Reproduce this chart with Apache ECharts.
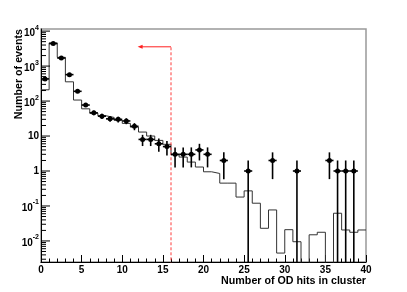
<!DOCTYPE html>
<html>
<head>
<meta charset="utf-8">
<script src="https://cdn.jsdelivr.net/npm/echarts@6/dist/echarts.min.js"></script>
<style>html,body{margin:0;padding:0;background:#fff}#c{width:407px;height:292px}</style>
</head>
<body>
<div id="c"></div>
<script>
// bin lower edges (width 1), 0..39
const binLow = [0,1,2,3,4,5,6,7,8,9,10,11,12,13,14,15,16,17,18,19,20,21,22,23,24,25,26,27,28,29,30,31,32,33,34,35,36,37,38,39];
// observed events per bin
const dataCounts = [430,4400,1700,570,190,77,46,37,31,30,27,19,8,8,6,5,3,3,3,4,3,0,2,0,0,1,0,0,2,0,0,1,0,0,0,2,1,1,1,0];
// expectation histogram per bin
const mcValues = [210,4600,1780,355,107,60,45,38,34,28,23,18,13,10,7.5,5.8,2.9,2.5,1.8,1.3,0.95,0.85,0.45,0.45,0.18,0.27,0.12,0.023,0.077,0.0045,0.021,0.0095,0,0.015,0.0177,0,0.062,0.0206,0.0177,0.0206];
// cut marker
const cutValue = [16];
const arrowEnd = [12.2];
const arrowLevel = [3560];
const xTicks = [0,5,10,15,20,25,30,35,40];
const yRange = [0.0025, 11500];

const FONT = '"Liberation Sans", Arial, Helvetica, sans-serif';
const floorV = yRange[0] * 0.3;

const histData = binLow.map((x, i) => [x, mcValues[i] > 0 ? mcValues[i] : floorV]);
histData.push([binLow[binLow.length-1] + 1, mcValues[mcValues.length-1] > 0 ? mcValues[mcValues.length-1] : floorV]);

const pointData = [];
binLow.forEach((x, i) => {
  const n = dataCounts[i];
  if (n > 0) {
    const e = Math.sqrt(n);
    const lo = n - e > 0 ? n - e : floorV;
    pointData.push([x + 0.5, n, lo, n + e]);
  }
});

const yTickData = [];
for (let k = -3; k <= 4; k++) {
  for (let m = 1; m <= 9; m++) {
    const v = m * Math.pow(10, k);
    if (v >= yRange[0] && v <= yRange[1]) yTickData.push([v, m === 1 ? 9 : 5]);
  }
}

const chart = echarts.init(document.getElementById('c'), null, {renderer: 'canvas'});
chart.setOption({
  animation: false,
  backgroundColor: '#fff',
  grid: {left: 41, right: 41, top: 29, bottom: 30, show: true, borderColor: '#999', borderWidth: 1.5, backgroundColor: 'transparent'},
  xAxis: {
    type: 'value', min: xTicks[0], max: xTicks[xTicks.length-1], interval: 5,
    axisLine: {show: true, lineStyle: {color: '#000', width: 1}},
    axisTick: {show: true, inside: true, length: 7, lineStyle: {color: '#000'}},
    minorTick: {show: true, splitNumber: 5, length: 3.5, lineStyle: {color: '#000'}},
    splitLine: {show: false},
    axisLabel: {margin: 3, fontFamily: FONT, fontSize: 10, fontWeight: 'bold', color: '#000'}
  },
  yAxis: {
    type: 'log', logBase: 10, min: yRange[0], max: yRange[1], splitNumber: 7,
    axisLine: {show: true, lineStyle: {color: '#000', width: 1}},
    axisTick: {show: false},
    splitLine: {show: false},
    axisLabel: {
      margin: 2, fontFamily: FONT, fontSize: 10, fontWeight: 'bold', color: '#000',
      showMinLabel: false, showMaxLabel: false,
      formatter: function (v) {
        const l = Math.log10(v);
        const e = Math.round(l);
        if (Math.abs(l - e) > 1e-6) return '';
        if (e === 0) return '1';
        if (e === 1) return '10';
        return '{b|10}{s|' + e + '}';
      },
      rich: {
        b: {fontFamily: FONT, fontSize: 10, fontWeight: 'bold', color: '#000', lineHeight: 14, verticalAlign: 'bottom'},
        s: {fontFamily: FONT, fontSize: 7, fontWeight: 'bold', color: '#000', lineHeight: 14, verticalAlign: 'top'}
      }
    }
  },
  graphic: [
    {type: 'text', x: 366, y: 281, style: {text: 'Number of OD hits in cluster', font: 'bold 10.7px ' + FONT, fill: '#000', textAlign: 'right', textVerticalAlign: 'middle'}},
    {type: 'text', x: 19, y: 29, rotation: Math.PI / 2, style: {text: 'Number of events', font: 'bold 10.7px ' + FONT, fill: '#000', textAlign: 'right', textVerticalAlign: 'middle'}}
  ],
  series: [
    {
      type: 'line', step: 'end', data: histData, showSymbol: false, clip: true,
      lineStyle: {color: '#333', width: 1}, z: 2, silent: true
    },
    {
      type: 'line', data: [[cutValue[0], floorV], [cutValue[0], arrowLevel[0]]], showSymbol: false, clip: true,
      lineStyle: {color: '#ff3b3b', width: 1, type: [3, 2]}, z: 3, silent: true
    },
    {
      type: 'line', clip: true,
      data: [{value: [cutValue[0], arrowLevel[0]], symbol: 'none'}, {value: [arrowEnd[0], arrowLevel[0]], symbol: 'triangle', symbolSize: [4, 5], symbolRotate: 90}],
      itemStyle: {color: '#ff2020'},
      lineStyle: {color: '#ff2020', width: 1}, z: 3, silent: true
    },
    {
      type: 'custom', data: pointData, clip: true, z: 5, silent: true,
      renderItem: function (params, api) {
        const x = api.value(0), v = api.value(1), lo = api.value(2), hi = api.value(3);
        const c = api.coord([x, v]);
        const cl = api.coord([x, lo]);
        const ch = api.coord([x, hi]);
        const l = api.coord([x - 0.5, v]);
        const r = api.coord([x + 0.5, v]);
        return {type: 'group', children: [
          {type: 'line', shape: {x1: c[0], y1: cl[1], x2: c[0], y2: ch[1]}, style: {stroke: '#000', lineWidth: 1.6}},
          {type: 'line', shape: {x1: l[0], y1: c[1], x2: r[0], y2: c[1]}, style: {stroke: '#000', lineWidth: 1.6}},
          {type: 'circle', shape: {cx: c[0], cy: c[1], r: 2.5}, style: {fill: '#000'}}
        ]};
      }
    },
    {
      type: 'custom', data: yTickData, clip: false, z: 6, silent: true,
      renderItem: function (params, api) {
        const p = api.coord([0, api.value(0)]);
        return {type: 'line', shape: {x1: p[0], y1: p[1], x2: p[0] + api.value(1), y2: p[1]}, style: {stroke: '#000', lineWidth: 1}};
      }
    }
  ]
});
</script>
</body>
</html>
